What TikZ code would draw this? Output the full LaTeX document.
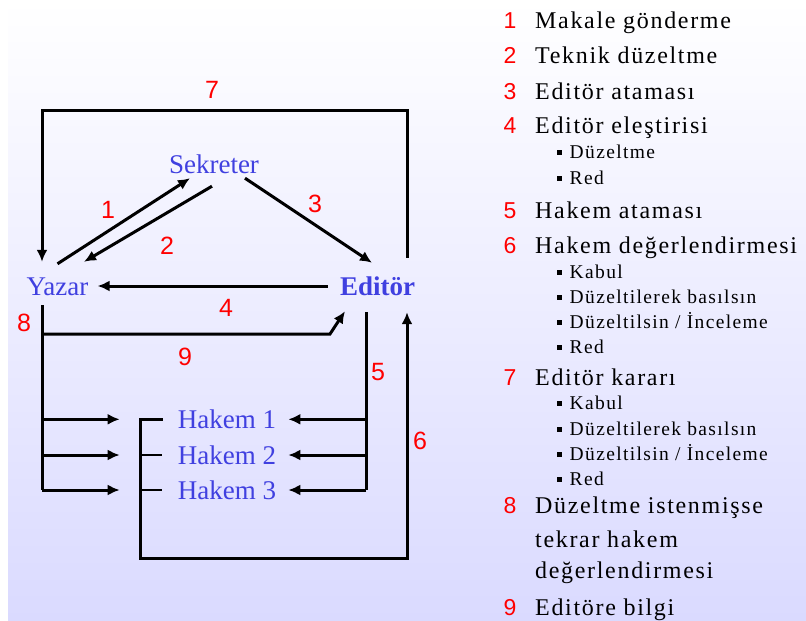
\documentclass[tikz,border=0pt]{standalone}
\usepackage{fontspec}
\setmainfont{Liberation Serif}
\newfontfamily\sayifont{Liberation Sans}
\newfontfamily\listefont[LetterSpace=7.0]{Liberation Serif}
\usetikzlibrary{arrows.meta}
\definecolor{mavi}{RGB}{64,64,224}
\definecolor{lila}{RGB}{218,218,255}
\newcommand\kare{\rule[3.5pt]{4.5pt}{4.5pt}\hspace{8pt}}
\begin{document}
\begin{tikzpicture}[x=1pt,y=-1pt,
    kisi/.style={text=mavi,font=\fontsize{27}{30}\selectfont,inner sep=0pt,text height=18pt,text depth=0pt},
    sayi/.style={text=red,font=\sayifont\fontsize{25}{28}\selectfont,inner sep=0pt,text height=18pt,text depth=0pt},
    lsayi/.style={text=red,font=\sayifont\fontsize{23}{26}\selectfont,inner sep=0pt,anchor=base},
    madde/.style={font=\listefont\fontsize{24}{28}\selectfont,inner sep=0pt,anchor=base west},
    altmadde/.style={font=\listefont\fontsize{19.5}{22}\selectfont,inner sep=0pt,anchor=base west},
    cizgi/.style={line width=3pt},
    ince/.style={line width=1.6pt},
    akis/.style={line width=3pt,-{Latex[length=12pt,width=11pt]}}]%
        \useasboundingbox (0,0) rectangle (806,621);%%
        \shade[top color=white,bottom color=lila] (8,0) rectangle (806,621);%%
        \begin{scope}
        \tikzstyle{every node}=[kisi] %%
        \node (sek) at (214,164)  {Sekreter}; %%
        \node (yaz) at (57.5,286)  {Yazar}; %%
        \node (edi) at (377.5,286)  {\bfseries Editör}; %%
        \node (hk1) at (227,419.3)  {Hakem 1}; %%
        \node (hk2) at (227,455)  {Hakem 2}; %%
        \node (hk3) at (227,490)  {Hakem 3}; %%
        \end{scope}
        \begin{scope}
        \tikzstyle{every node}=[sayi] %%
        \node (l7) at (212,89)  {7}; %%
        \node (l1) at (108,209)  {1}; %%
        \node (l2) at (167,245)  {2}; %%
        \node (l3) at (315,203)  {3}; %%
        \node (l4) at (226,307)  {4}; %%
        \node (l8) at (24,322)  {8}; %%
        \node (l9) at (185,356)  {9}; %%
        \node (l5) at (378,371)  {5}; %%
        \node (l6) at (420,440)  {6}; %%
        \end{scope}
        \coordinate (ust) at (42,110); %%
        \coordinate (sol) at ([xshift=-15.5pt,yshift=-10pt]yaz.south); %%
        \coordinate (kirik) at (330,334); %%
        \coordinate (sag) at ([xshift=-11.5pt,yshift=-17pt]edi.south); %%
        \coordinate (alt) at (140,558); %%
        \draw[akis] ([yshift=13pt]yaz.north) -- ([xshift=-24pt,yshift=-5pt]sek.south);  %%
        \draw[akis] ([xshift=-2pt,yshift=-13pt]sek.south) -- ([xshift=26.5pt,yshift=15pt]yaz.north);  %%
        \draw[akis] ([xshift=31pt,yshift=-5pt]sek.south) -- ([xshift=-5.5pt,yshift=14pt]edi.north); %%
        \draw[akis] ([xshift=-12pt]edi.west) -- ([xshift=9pt]yaz.east); %%
        \draw[akis] ([xshift=29.5pt,yshift=19pt]edi.north) |- (ust) -- ([xshift=-15.5pt,yshift=15pt]yaz.north); %%
        \draw[cizgi] (sol) -- (sol |- hk3.west); %%
        \draw[akis] (sol |- kirik) -- (kirik) -- ([xshift=-32.5pt,yshift=-16pt]edi.south); %%
        \draw[akis] (sol |- hk1.west) -- ([xshift=-58pt]hk1.west); %%
        \draw[akis] (sol |- hk2.west) -- ([xshift=-58pt]hk2.west); %%
        \draw[akis] (sol |- hk3.west) -- ([xshift=-58pt]hk3.west); %%
        \draw[cizgi] (sag) -- (sag |- hk3.east); %%
        \draw[akis] (sag |- hk1.east) -- ([xshift=12pt]hk1.east); %%
        \draw[akis] (sag |- hk2.east) -- ([xshift=12pt]hk2.east); %%
        \draw[akis] (sag |- hk3.east) -- ([xshift=12pt]hk3.east); %%
        \draw[akis] ([xshift=-15pt]hk1.west) -| (alt) -| ([xshift=29.5pt,yshift=-17pt]edi.south); %%
        \draw[ince] ([xshift=-16pt]hk2.west) -- (alt |- hk2.west); %%
        \draw[ince] ([xshift=-16pt]hk3.west) -- (alt |- hk3.west); %%
        % liste
        \node[lsayi] (n1) at (510,28)  {1}; %%
        \node[madde] (m1) at (535,28)  {Makale gönderme}; %%
        \node[lsayi] (n2) at (510,63)  {2}; %%
        \node[madde] (m2) at (535,63)  {Teknik düzeltme}; %%
        \node[lsayi] (n3) at (510,99)  {3}; %%
        \node[madde] (m3) at (535,99)  {Editör ataması}; %%
        \node[lsayi] (n4) at (510,133)  {4}; %%
        \node[madde] (m4) at (535,133)  {Editör eleştirisi}; %%
        \node[altmadde] (s41) at (557,158)  {\kare Düzeltme}; %%
        \node[altmadde] (s42) at (557,184)  {\kare Red}; %%
        \node[lsayi] (n5) at (510,218)  {5}; %%
        \node[madde] (m5) at (535,218)  {Hakem ataması}; %%
        \node[lsayi] (n6) at (510,253)  {6}; %%
        \node[madde] (m6) at (535,253)  {Hakem değerlendirmesi}; %%
        \node[altmadde] (s61) at (557,278)  {\kare Kabul}; %%
        \node[altmadde] (s62) at (557,303)  {\kare Düzeltilerek basılsın}; %%
        \node[altmadde] (s63) at (557,328)  {\kare Düzeltilsin / İnceleme}; %%
        \node[altmadde] (s64) at (557,353)  {\kare Red}; %%
        \node[lsayi] (n7) at (510,385)  {7}; %%
        \node[madde] (m7) at (535,385)  {Editör kararı}; %%
        \node[altmadde] (s71) at (557,409)  {\kare Kabul}; %%
        \node[altmadde] (s72) at (557,435)  {\kare Düzeltilerek basılsın}; %%
        \node[altmadde] (s73) at (557,460)  {\kare Düzeltilsin / İnceleme}; %%
        \node[altmadde] (s74) at (557,485)  {\kare Red}; %%
        \node[lsayi] (n8) at (510,513)  {8}; %%
        \node[madde] (m8) at (535,513)  {Düzeltme istenmişse}; %%
        \node[madde] (m8b) at (535,547)  {tekrar hakem}; %%
        \node[madde] (m8c) at (535,578)  {değerlendirmesi}; %%
        \node[lsayi] (n9) at (510,615)  {9}; %%
        \node[madde] (m9) at (535,615)  {Editöre bilgi}; %%
\end{tikzpicture}
\end{document}
